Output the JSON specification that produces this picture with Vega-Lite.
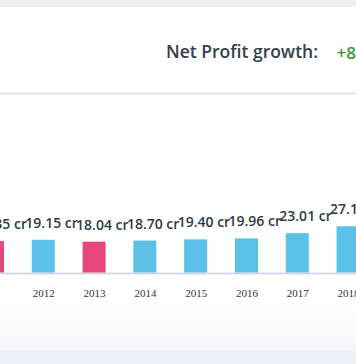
{
  "$schema": "https://vega.github.io/schema/vega-lite/v6.json",
  "width": 356,
  "height": 344,
  "autosize": {"type": "none"},
  "padding": {"top": 7, "bottom": 13, "left": 0, "right": 0},
  "background": "#eceff3",
  "title": {
    "text": "Net Profit growth:",
    "anchor": "start",
    "frame": "group",
    "dx": 166,
    "dy": 68,
    "offset": 0,
    "baseline": "alphabetic",
    "font": "Open Sans",
    "fontSize": 17.5,
    "fontWeight": 600,
    "color": "#34404d"
  },
  "config": {
    "view": {
      "stroke": null,
      "fill": {
        "gradient": "linear",
        "x1": 0, "y1": 0, "x2": 0, "y2": 1,
        "stops": [
          {"offset": 0, "color": "#ffffff"},
          {"offset": 0.86, "color": "#ffffff"},
          {"offset": 1, "color": "#f5f6f8"}
        ]
      }
    }
  },
  "data": {
    "values": [
      {"year": 2011, "profit": 18.35, "label": "18.35 cr", "trend": "down"},
      {"year": 2012, "profit": 19.15, "label": "19.15 cr", "trend": "up"},
      {"year": 2013, "profit": 18.04, "label": "18.04 cr", "trend": "down"},
      {"year": 2014, "profit": 18.70, "label": "18.70 cr", "trend": "up"},
      {"year": 2015, "profit": 19.40, "label": "19.40 cr", "trend": "up"},
      {"year": 2016, "profit": 19.96, "label": "19.96 cr", "trend": "up"},
      {"year": 2017, "profit": 23.01, "label": "23.01 cr", "trend": "up"},
      {"year": 2018, "profit": 27.12, "label": "27.12 cr", "trend": "up"}
    ]
  },
  "layer": [
    {
      "mark": {"type": "bar", "width": 23, "clip": true},
      "encoding": {
        "x": {
          "field": "year",
          "type": "quantitative",
          "scale": {"domain": [2011.148, 2018.156], "nice": false, "zero": false, "padding": 0},
          "axis": {
            "orient": "bottom",
            "offset": -78,
            "values": [2011, 2012, 2013, 2014, 2015, 2016, 2017, 2018],
            "format": "d",
            "title": null,
            "grid": false,
            "ticks": false,
            "domainColor": "#c9cee6",
            "domainWidth": 1.5,
            "labelFont": "Liberation Serif",
            "labelFontSize": 11,
            "labelColor": "#333333",
            "labelPadding": 14,
            "labelFlush": false,
            "labelOverlap": false,
            "labelBound": false
          }
        },
        "y": {
          "field": "profit",
          "type": "quantitative",
          "scale": {"domain": [-45.9, 155.3], "nice": false, "zero": false},
          "axis": null
        },
        "color": {
          "field": "trend",
          "type": "nominal",
          "scale": {"domain": ["down", "up"], "range": ["#e8457f", "#5cc1e9"]},
          "legend": null
        }
      }
    },
    {
      "mark": {
        "type": "text",
        "align": "left",
        "dx": -18,
        "dy": -12,
        "baseline": "alphabetic",
        "font": "Open Sans",
        "fontSize": 14,
        "fontWeight": 600,
        "color": "#2d3b48"
      },
      "encoding": {
        "x": {
          "field": "year",
          "type": "quantitative",
          "axis": {
            "orient": "top",
            "offset": -86,
            "labels": false,
            "ticks": false,
            "grid": false,
            "domainColor": "#e3e3e3",
            "domainWidth": 2,
            "title": "+8.57%",
            "titleX": 336,
            "titleY": -35,
            "titleAlign": "left",
            "titleBaseline": "alphabetic",
            "titleFont": "Open Sans",
            "titleFontSize": 17,
            "titleFontWeight": 600,
            "titleColor": "#3a9a3a"
          }
        },
        "y": {"field": "profit", "type": "quantitative"},
        "text": {"field": "label"}
      }
    }
  ],
  "resolve": {"axis": {"x": "independent"}}
}
